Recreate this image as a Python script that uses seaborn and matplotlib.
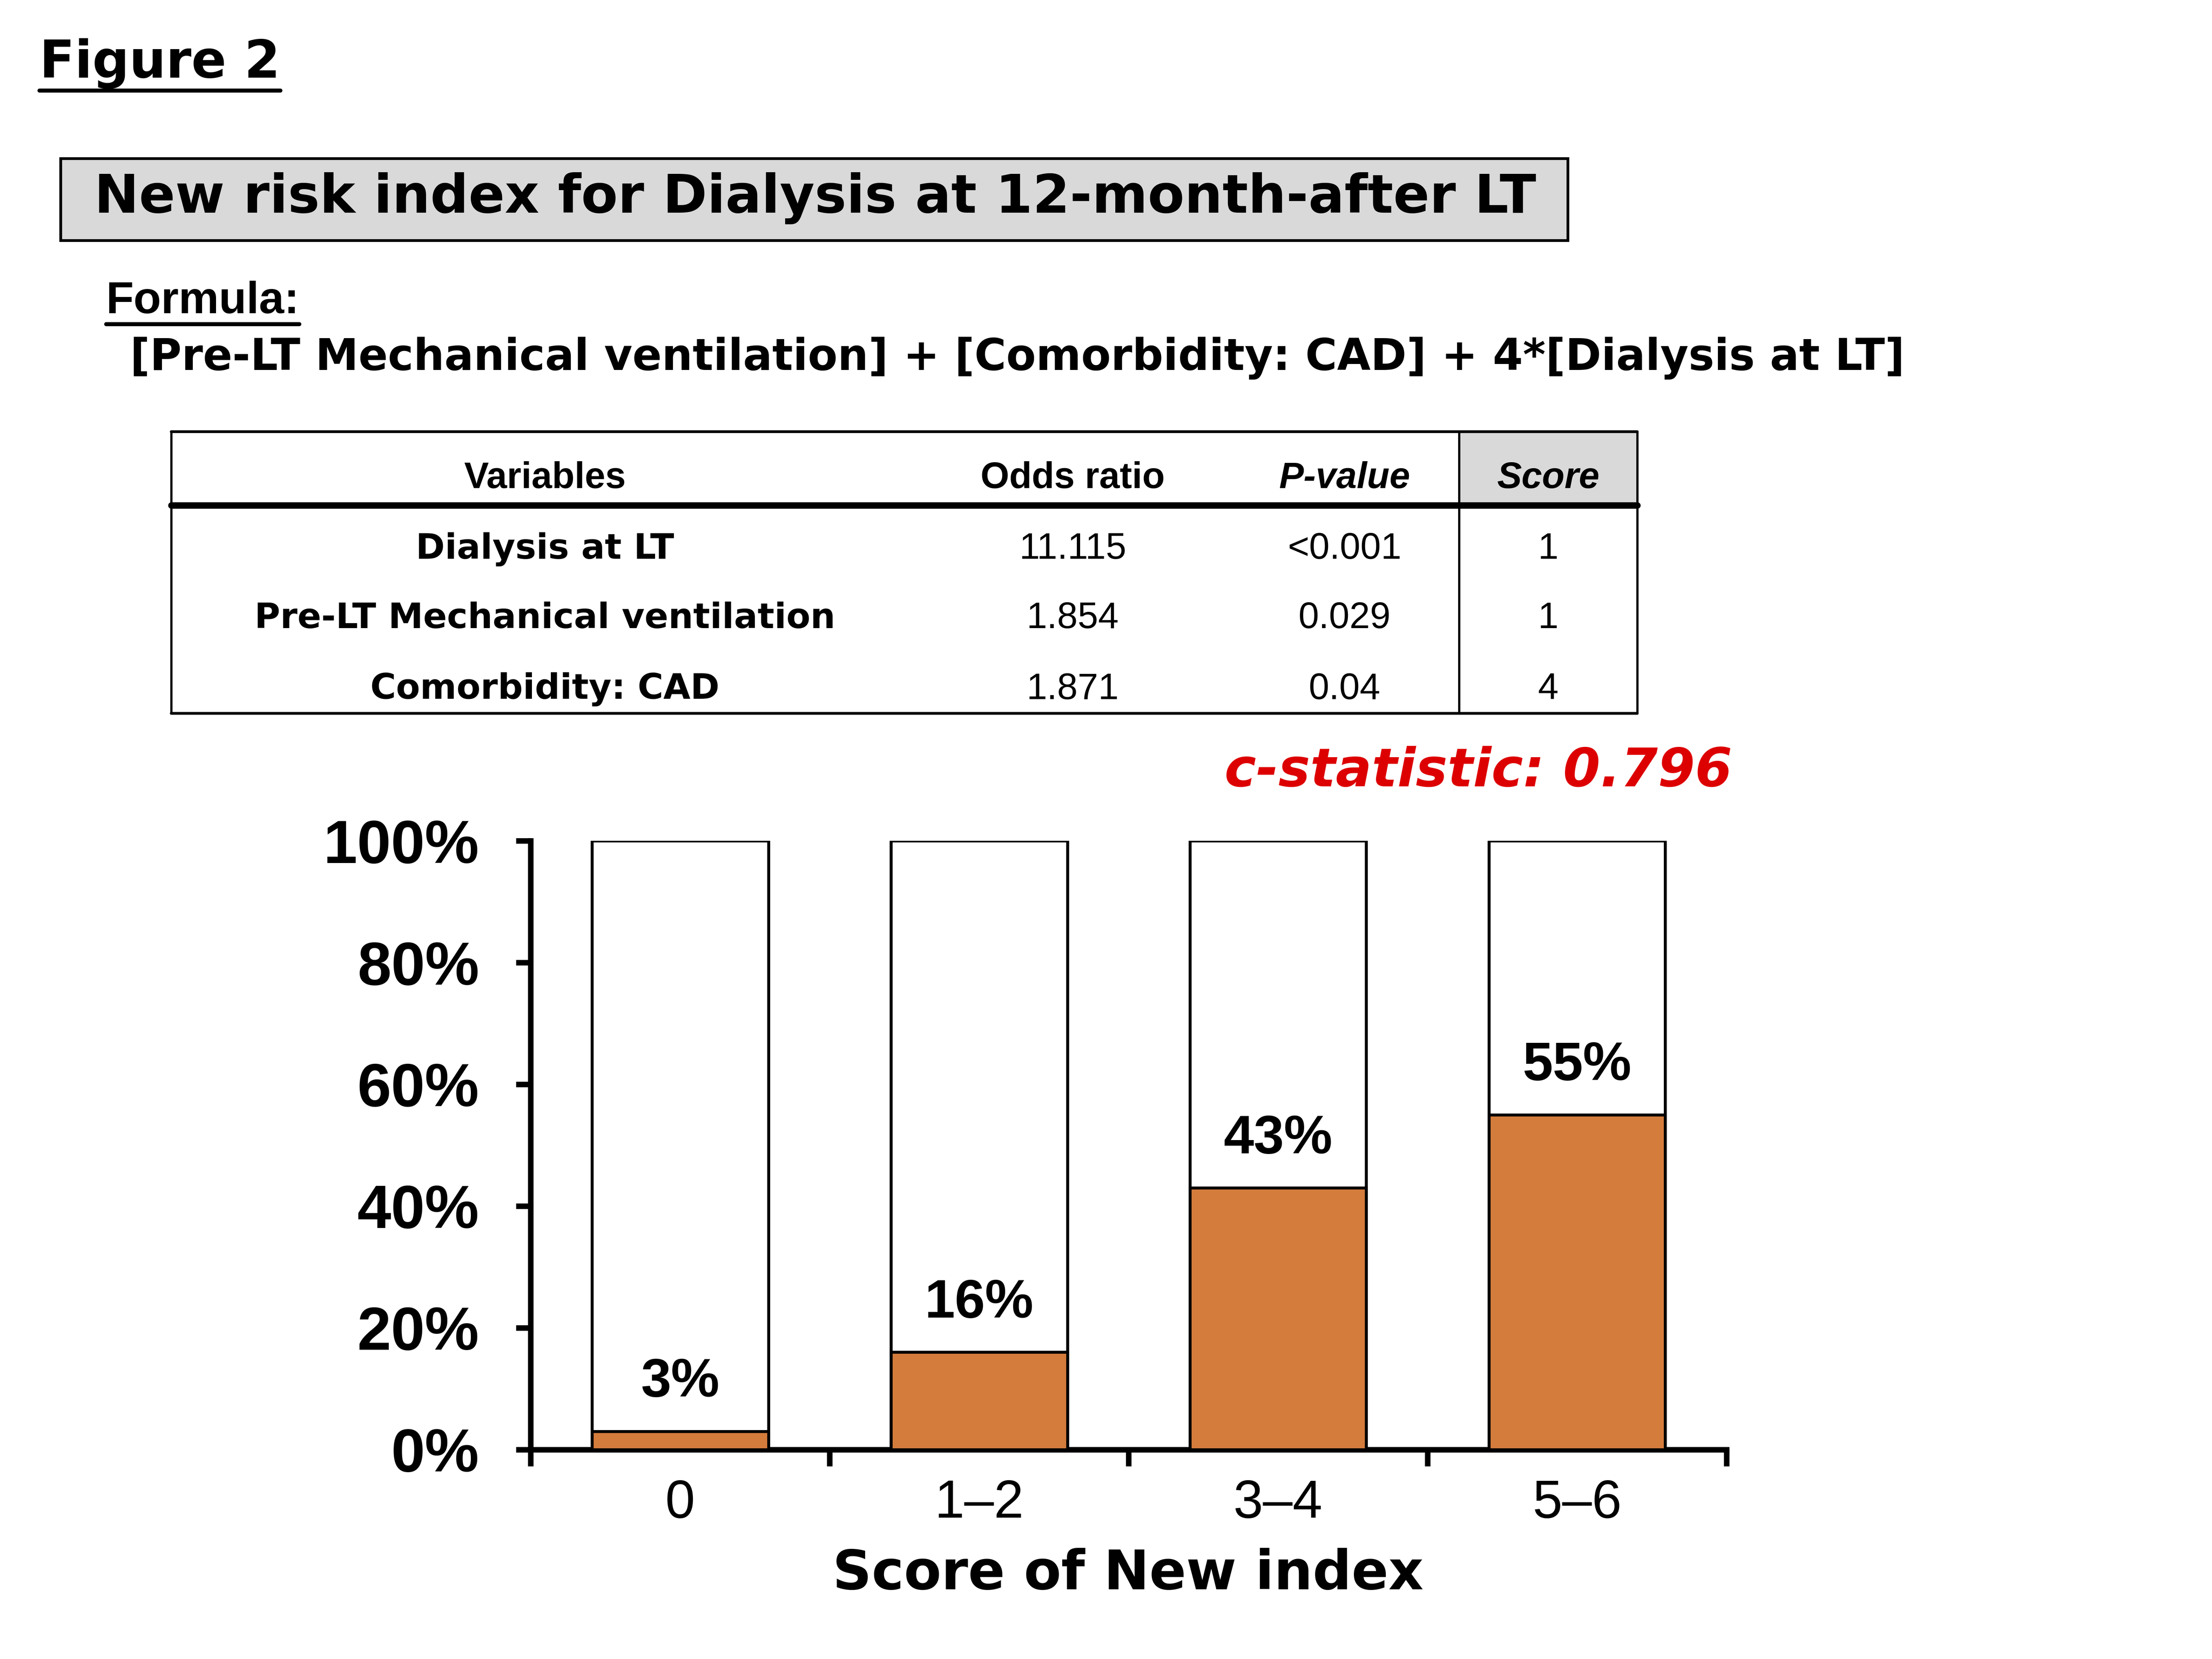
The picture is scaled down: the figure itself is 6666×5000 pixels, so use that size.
import matplotlib
matplotlib.use("Agg")
import matplotlib.pyplot as plt
import seaborn as sns
import pandas as pd
from matplotlib.lines import Line2D
from matplotlib.patches import Rectangle

# ---------------- data ----------------
categories = ["0", "1\u20132", "3\u20134", "5\u20136"]
dialysis_pct = [3, 16, 43, 55]
total_pct = [100, 100, 100, 100]
y_ticks = [0, 20, 40, 60, 80, 100]
y_tick_labels = ["0%", "20%", "40%", "60%", "80%", "100%"]

table_header = ["Variables", "Odds ratio", "P-value", "Score"]
table_vars = ["Dialysis at LT", "Pre-LT Mechanical ventilation", "Comorbidity: CAD"]
table_or = ["11.115", "1.854", "1.871"]
table_p = ["<0.001", "0.029", "0.04"]
table_score = ["1", "1", "4"]

fig_label = "Figure 2"
title_text = "New risk index for Dialysis at 12-month-after LT"
formula_label = "Formula:"
formula_text = "[Pre-LT Mechanical ventilation] + [Comorbidity: CAD] + 4*[Dialysis at LT]"
cstat_text = "c-statistic: 0.796"
xlabel_text = "Score of New index"

ORANGE = "#D47C3C"
RED = "#DD0000"
GRAY = "#D9D9D9"

sns.set_theme(style="white")
plt.rcParams["font.family"] = ["Liberation Sans", "DejaVu Sans"]
plt.rcParams["text.color"] = "black"
plt.rcParams["axes.labelcolor"] = "black"
plt.rcParams["xtick.color"] = "black"
plt.rcParams["ytick.color"] = "black"

W, H = 1563.0, 1172.0  # reference layout units
def fx(x): return x / W
def fy(y): return 1 - y / H

fig = plt.figure(figsize=(16.665, 12.5), dpi=400)
fig.patch.set_facecolor("white")

HEAVY = "DejaVu Sans"

# Figure label
t_fig = fig.text(fx(28), fy(45), fig_label, fontsize=28, fontweight="bold",
                 family=HEAVY, ha="left", va="center")
# Title box
fig.patches.append(Rectangle((fx(43), fy(170)), fx(1108) - fx(43), fy(112) - fy(170),
                             transform=fig.transFigure, facecolor=GRAY,
                             edgecolor="black", linewidth=1.5))
fig.text(fx(576), fy(140), title_text, fontsize=29, fontweight="bold",
         family=HEAVY, ha="center", va="center")
# Formula
t_form = fig.text(fx(75), fy(213), formula_label, fontsize=24.5, fontweight="bold",
                  ha="left", va="center")
fig.text(fx(92), fy(253), formula_text, fontsize=23.5, fontweight="bold",
         family=HEAVY, ha="left", va="center")

# ---------------- table ----------------
tl, tr, tt, tb, th = 121, 1157, 305, 504, 357
sc = 1031
fig.patches.append(Rectangle((fx(sc), fy(th)), fx(tr) - fx(sc), fy(tt) - fy(th),
                             transform=fig.transFigure, facecolor=GRAY,
                             edgecolor="none"))
def hline(y, x0, x1, lw):
    fig.add_artist(Line2D([fx(x0), fx(x1)], [fy(y), fy(y)], color="black",
                          linewidth=lw, transform=fig.transFigure))
def vline(x, y0, y1, lw):
    fig.add_artist(Line2D([fx(x), fx(x)], [fy(y0), fy(y1)], color="black",
                          linewidth=lw, transform=fig.transFigure))
hline(tt, tl, tr, 1.5)
hline(tb, tl, tr, 1.5)
hline(th, tl, tr, 3.5)
vline(tl, tt, tb, 1.2)
vline(tr, tt, tb, 1.2)
vline(sc, tt, tb, 1.2)

col_x = [385, 758, 950, 1094]
hdr_y = 338
row_y = [388, 437, 487]
hdr_style = ["normal", "normal", "italic", "italic"]
for cx, txt, st in zip(col_x, table_header, hdr_style):
    fig.text(fx(cx), fy(hdr_y), txt, fontsize=20, fontweight="bold", style=st,
             ha="center", va="center")
for i, ry in enumerate(row_y):
    fig.text(fx(col_x[0]), fy(ry), table_vars[i], fontsize=19, fontweight="bold",
             family=HEAVY, ha="center", va="center")
    fig.text(fx(col_x[1]), fy(ry), table_or[i], fontsize=20, ha="center", va="center")
    fig.text(fx(col_x[2]), fy(ry), table_p[i], fontsize=20, ha="center", va="center")
    fig.text(fx(col_x[3]), fy(ry), table_score[i], fontsize=20, ha="center", va="center")

# c-statistic
fig.text(fx(1224), fy(545), cstat_text, fontsize=29, fontweight="bold",
         style="italic", family=HEAVY, color=RED, ha="right", va="center")

# ---------------- bar chart ----------------
ax = fig.add_axes([fx(375), fy(1024), fx(1220) - fx(375), fy(594) - fy(1024)])
df = pd.DataFrame({"score": categories, "total": total_pct, "dialysis": dialysis_pct})
sns.barplot(data=df, x="score", y="total", color="white", edgecolor="black",
            linewidth=1.6, width=0.59, saturation=1, ax=ax, zorder=2)
sns.barplot(data=df, x="score", y="dialysis", color=ORANGE, edgecolor="black",
            linewidth=1.6, width=0.59, saturation=1, ax=ax, zorder=3)
for i, v in enumerate(dialysis_pct):
    ax.text(i, v + 8, f"{v}%", fontsize=29.5, fontweight="bold",
            ha="center", va="center", zorder=4)

ax.set_xlim(-0.5, 3.5)
ax.set_ylim(0, 100)
ax.set_facecolor("white")
for s in ["top", "right"]:
    ax.spines[s].set_visible(False)
for s in ["left", "bottom"]:
    ax.spines[s].set_linewidth(3)
    ax.spines[s].set_color("black")
ax.set_yticks(y_ticks)
ax.set_yticklabels(y_tick_labels, fontsize=33, fontweight="bold")
ax.tick_params(axis="y", left=True, direction="out", length=8, width=3, pad=20,
               colors="black")
ax.set_xticks([-0.5, 0.5, 1.5, 2.5, 3.5])
ax.set_xticklabels([])
ax.set_xticks(range(len(categories)), minor=True)
ax.set_xticklabels(categories, minor=True, fontsize=29)
ax.tick_params(axis="x", which="major", bottom=True, direction="out", length=9,
               width=3, colors="black")
ax.tick_params(axis="x", which="minor", bottom=True, length=0, pad=16)
ax.set_xlabel("")
ax.set_ylabel("")
ax.grid(False)
fig.text(fx(797), fy(1112), xlabel_text, fontsize=29.5, fontweight="bold",
         family=HEAVY, ha="center", va="center")

# underlines
fig.canvas.draw()
r = fig.canvas.get_renderer()
for t, uy in [(t_fig, 64), (t_form, 229)]:
    bb = t.get_window_extent(r).transformed(fig.transFigure.inverted())
    fig.add_artist(Line2D([bb.x0, bb.x1], [fy(uy), fy(uy)], color="black",
                          linewidth=2.2, transform=fig.transFigure))

fig.savefig("out.png", dpi=400, facecolor="white")
